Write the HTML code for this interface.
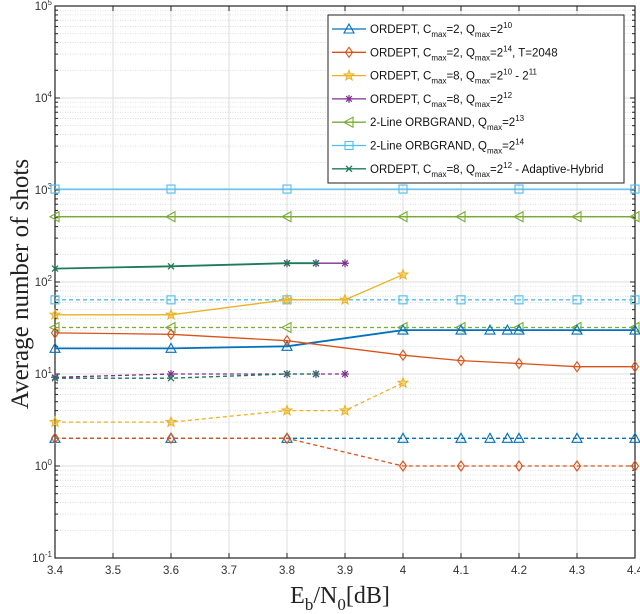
<!DOCTYPE html>
<html><head><meta charset="utf-8"><style>
body{margin:0;background:#fff;}
svg{display:block;font-family:"Liberation Sans",Arial,sans-serif;}
</style></head><body>
<svg id="chart" width="640" height="614" xmlns="http://www.w3.org/2000/svg"></svg>
<script>
const xTicks=[3.4,3.5,3.6,3.7,3.8,3.9,4,4.1,4.2,4.3,4.4];
const yDecades=[-1,0,1,2,3,4,5];
const s1x=[3.4,3.6,3.8,4,4.1,4.15,4.18,4.2,4.3,4.4];
const s1y=[19,19,20,30,30,30,30,30,30,30];
const s1dx=[3.4,3.6,3.8,4,4.1,4.15,4.18,4.2,4.3,4.4];
const s1dy=[2,2,2,2,2,2,2,2,2,2];
const s2x=[3.4,3.6,3.8,4,4.1,4.2,4.3,4.4];
const s2y=[28,27,23,16,14,13,12,12];
const s2dy=[2,2,2,1,1,1,1,1];
const s3x=[3.4,3.6,3.8,3.9,4];
const s3y=[44,44,64,64,120];
const s3dy=[3,3,4,4,8];
const s4x=[3.8,3.85,3.9];
const s4y=[160,160,160];
const s4dx=[3.4,3.6,3.8,3.85,3.9];
const s4dy=[9.2,10,10,10,10];
const s5x=[3.4,3.6,3.8,4,4.1,4.2,4.3,4.4];
const s5y=[512,512,512,512,512,512,512,512];
const s5dy=[32,32,32,32,32,32,32,32];
const s6x=[3.4,3.6,3.8,4,4.2,4.4];
const s6y=[1024,1024,1024,1024,1024,1024];
const s6dx=[3.4,3.6,3.8,4,4.1,4.2,4.3,4.4];
const s6dy=[64,64,64,64,64,64,64,64];
const s7x=[3.4,3.6,3.8,3.85];
const s7y=[140,148,160,160];
const s7dy=[9,9,10,10];

const NS="http://www.w3.org/2000/svg";
const svg=document.getElementById('chart');
const X0=55,X1=635,YT=6,YB=558;
const sx=v=>X0+(v-3.4)/(1.0)*(X1-X0);
const sy=v=>YB-(Math.log10(v)+1)/6*(YB-YT);
function el(t,a,p){const e=document.createElementNS(NS,t);for(const k in a)e.setAttribute(k,a[k]);(p||svg).appendChild(e);return e;}

const grid=el('g',{});


xTicks.forEach(t=>{el('line',{x1:sx(t),x2:sx(t),y1:YT,y2:YB,stroke:'#dcdcdc','stroke-width':1},grid);});
yDecades.forEach(d=>{
  const v=Math.pow(10,d);
  el('line',{x1:X0,x2:X1,y1:sy(v),y2:sy(v),stroke:'#dcdcdc','stroke-width':1},grid);
  if(d<5){for(let m=2;m<10;m++){const y=sy(m*v);el('line',{x1:X0,x2:X1,y1:y,y2:y,stroke:'#cfcfcf','stroke-width':0.7,'stroke-dasharray':'1,1.5'},grid);}}
});

const axes=el('g',{});


el('rect',{x:X0,y:YT,width:X1-X0,height:YB-YT,fill:'none',stroke:'#222','stroke-width':1.2},axes);
xTicks.forEach(t=>{
  el('line',{x1:sx(t),x2:sx(t),y1:YB,y2:YB-5,stroke:'#222'},axes);
  el('line',{x1:sx(t),x2:sx(t),y1:YT,y2:YT+5,stroke:'#222'},axes);
  const tx=el('text',{x:sx(t),y:YB+16,'font-size':11.5,'text-anchor':'middle',fill:'#333'},axes);
  tx.textContent=String(t);
  
  
});
yDecades.forEach(d=>{
  const y=sy(Math.pow(10,d));
  el('line',{x1:X0,x2:X0+5,y1:y,y2:y,stroke:'#222'},axes);
  el('line',{x1:X1,x2:X1-5,y1:y,y2:y,stroke:'#222'},axes);
  const tx=el('text',{x:X0-3,y:y+4,'font-size':11.5,'text-anchor':'end',fill:'#333'},axes);
  tx.innerHTML='10<tspan dy="-5" font-size="8">'+d+'</tspan>';
  
  
  if(d<5)for(let m=2;m<10;m++){const yy=sy(m*Math.pow(10,d));el('line',{x1:X0,x2:X0+3,y1:yy,y2:yy,stroke:'#222'},axes);el('line',{x1:X1,x2:X1-3,y1:yy,y2:yy,stroke:'#222'},axes);}
});

function marker(g,type,x,y,c){
  const s=4;
  if(type==='tri')el('path',{d:`M${x},${y-s-1}L${x+s+1},${y+s}L${x-s-1},${y+s}Z`,fill:'none',stroke:c,'stroke-width':1.1},g);
  else if(type==='dia')el('path',{d:`M${x},${y-s-1}L${x+s-0.5},${y}L${x},${y+s+1}L${x-s+0.5},${y}Z`,fill:'none',stroke:c,'stroke-width':1.1},g);
  else if(type==='star'){let p='';for(let i=0;i<10;i++){const r=i%2?2.2:5.2,a=-Math.PI/2+i*Math.PI/5;p+=(i?'L':'M')+(x+r*Math.cos(a)).toFixed(1)+','+(y+r*Math.sin(a)).toFixed(1);}el('path',{d:p+'Z',fill:c,'fill-opacity':0.5,stroke:c,'stroke-width':1},g);}
  else if(type==='ast'){for(let i=0;i<4;i++){const a=i*Math.PI/4;el('line',{x1:x-s*Math.cos(a),y1:y-s*Math.sin(a),x2:x+s*Math.cos(a),y2:y+s*Math.sin(a),stroke:c,'stroke-width':1.2},g);}}
  else if(type==='ltri')el('path',{d:`M${x-s-1},${y}L${x+s},${y-s-1}L${x+s},${y+s+1}Z`,fill:'none',stroke:c,'stroke-width':1.1},g);
  else if(type==='sq')el('rect',{x:x-s,y:y-s,width:2*s,height:2*s,fill:'none',stroke:c,'stroke-width':1.1},g);
  else if(type==='x'){el('line',{x1:x-3,y1:y-3,x2:x+3,y2:y+3,stroke:c,'stroke-width':1.3},g);el('line',{x1:x-3,y1:y+3,x2:x+3,y2:y-3,stroke:c,'stroke-width':1.3},g);}
}
function series(name,xs,ys,c,m,dash,w){
  const g=el('g',{});
  
  
  const pts=xs.map((x,i)=>sx(x).toFixed(1)+','+sy(ys[i]).toFixed(1)).join(' ');
  const a={points:pts,fill:'none',stroke:c,'stroke-width':w||1.3};
  if(dash)a['stroke-dasharray']=dash;
  el('polyline',a,g);
  xs.forEach((x,i)=>marker(g,m,sx(x),sy(ys[i]),c));
}
const C1='#0072BD',C2='#D95319',C3='#EDB120',C4='#7E2F8E',C5='#77AC30',C6='#4DBEEE',C7='#1E7B5A';
series('ordept-c2-q10-dashed',s1dx,s1dy,C1,'tri','4,3');
series('ordept-c2-q14-dashed',s2x,s2dy,C2,'dia','4,3');
series('ordept-c8-q10-11-dashed',s3x,s3dy,C3,'star','4,3');
series('ordept-c8-q12-dashed',s4dx,s4dy,C4,'ast','4,3');
series('adaptive-hybrid-dashed',s4dx.slice(0,4),s7dy,C7,'x','4,3');
series('orbgrand-q13-dashed',s5x,s5dy,C5,'ltri','4,3');
series('orbgrand-q14-dashed',s6dx,s6dy,C6,'sq','4,3');
series('orbgrand-q14',s6x,s6y,C6,'sq');
series('orbgrand-q13',s5x,s5y,C5,'ltri');
series('ordept-c2-q10',s1x,s1y,C1,'tri',null,1.8);
series('ordept-c2-q14',s2x,s2y,C2,'dia');
series('ordept-c8-q10-11',s3x,s3y,C3,'star');
series('ordept-c8-q12',s4x,s4y,C4,'ast');
series('adaptive-hybrid',s7x,s7y,C7,'x',null,1.8);

// legend
const lg=el('g',{});


el('rect',{x:328,y:15,width:296,height:168,fill:'#fff',stroke:'#222','stroke-width':1},lg);
const entries=[
 [C1,'tri','ORDEPT, C<tspan dy="4" font-size="8">max</tspan><tspan dy="-4">=2, Q</tspan><tspan dy="4" font-size="8">max</tspan><tspan dy="-4">=2</tspan><tspan dy="-5" font-size="8">10</tspan>'],
 [C2,'dia','ORDEPT, C<tspan dy="4" font-size="8">max</tspan><tspan dy="-4">=2, Q</tspan><tspan dy="4" font-size="8">max</tspan><tspan dy="-4">=2</tspan><tspan dy="-5" font-size="8">14</tspan><tspan dy="5">, T=2048</tspan>'],
 [C3,'star','ORDEPT, C<tspan dy="4" font-size="8">max</tspan><tspan dy="-4">=8, Q</tspan><tspan dy="4" font-size="8">max</tspan><tspan dy="-4">=2</tspan><tspan dy="-5" font-size="8">10</tspan><tspan dy="5"> - 2</tspan><tspan dy="-5" font-size="8">11</tspan>'],
 [C4,'ast','ORDEPT, C<tspan dy="4" font-size="8">max</tspan><tspan dy="-4">=8, Q</tspan><tspan dy="4" font-size="8">max</tspan><tspan dy="-4">=2</tspan><tspan dy="-5" font-size="8">12</tspan>'],
 [C5,'ltri','2-Line ORBGRAND, Q<tspan dy="4" font-size="8">max</tspan><tspan dy="-4">=2</tspan><tspan dy="-5" font-size="8">13</tspan>'],
 [C6,'sq','2-Line ORBGRAND, Q<tspan dy="4" font-size="8">max</tspan><tspan dy="-4">=2</tspan><tspan dy="-5" font-size="8">14</tspan>'],
 [C7,'x','ORDEPT, C<tspan dy="4" font-size="8">max</tspan><tspan dy="-4">=8, Q</tspan><tspan dy="4" font-size="8">max</tspan><tspan dy="-4">=2</tspan><tspan dy="-5" font-size="8">12</tspan><tspan dy="5"> - Adaptive-Hybrid</tspan>']
];
entries.forEach((e,i)=>{
  const y=29+i*23.3;
  const g=el('g',{},lg);
  
  
  el('line',{x1:332,x2:366,y1:y,y2:y,stroke:e[0],'stroke-width':1.3},g);
  marker(g,e[1],349,y,e[0]);
  const t=el('text',{x:370,y:y+4,'font-size':11.5,fill:'#111'},g);
  t.innerHTML=e[2];
});

const yl=el('text',{x:0,y:0,'font-size':25,'font-family':'"Liberation Serif",serif','text-anchor':'middle',fill:'#222',transform:'translate(28,284) rotate(-90)'});
yl.textContent='Average number of shots';


const xl=el('text',{x:340,y:603,'font-size':24,'font-family':'"Liberation Serif",serif','text-anchor':'middle',fill:'#222'});
xl.innerHTML='E<tspan dy="7" font-size="17">b</tspan><tspan dy="-7">/N</tspan><tspan dy="7" font-size="17">0</tspan><tspan dy="-7">[dB]</tspan>';


</script>
</body></html>
